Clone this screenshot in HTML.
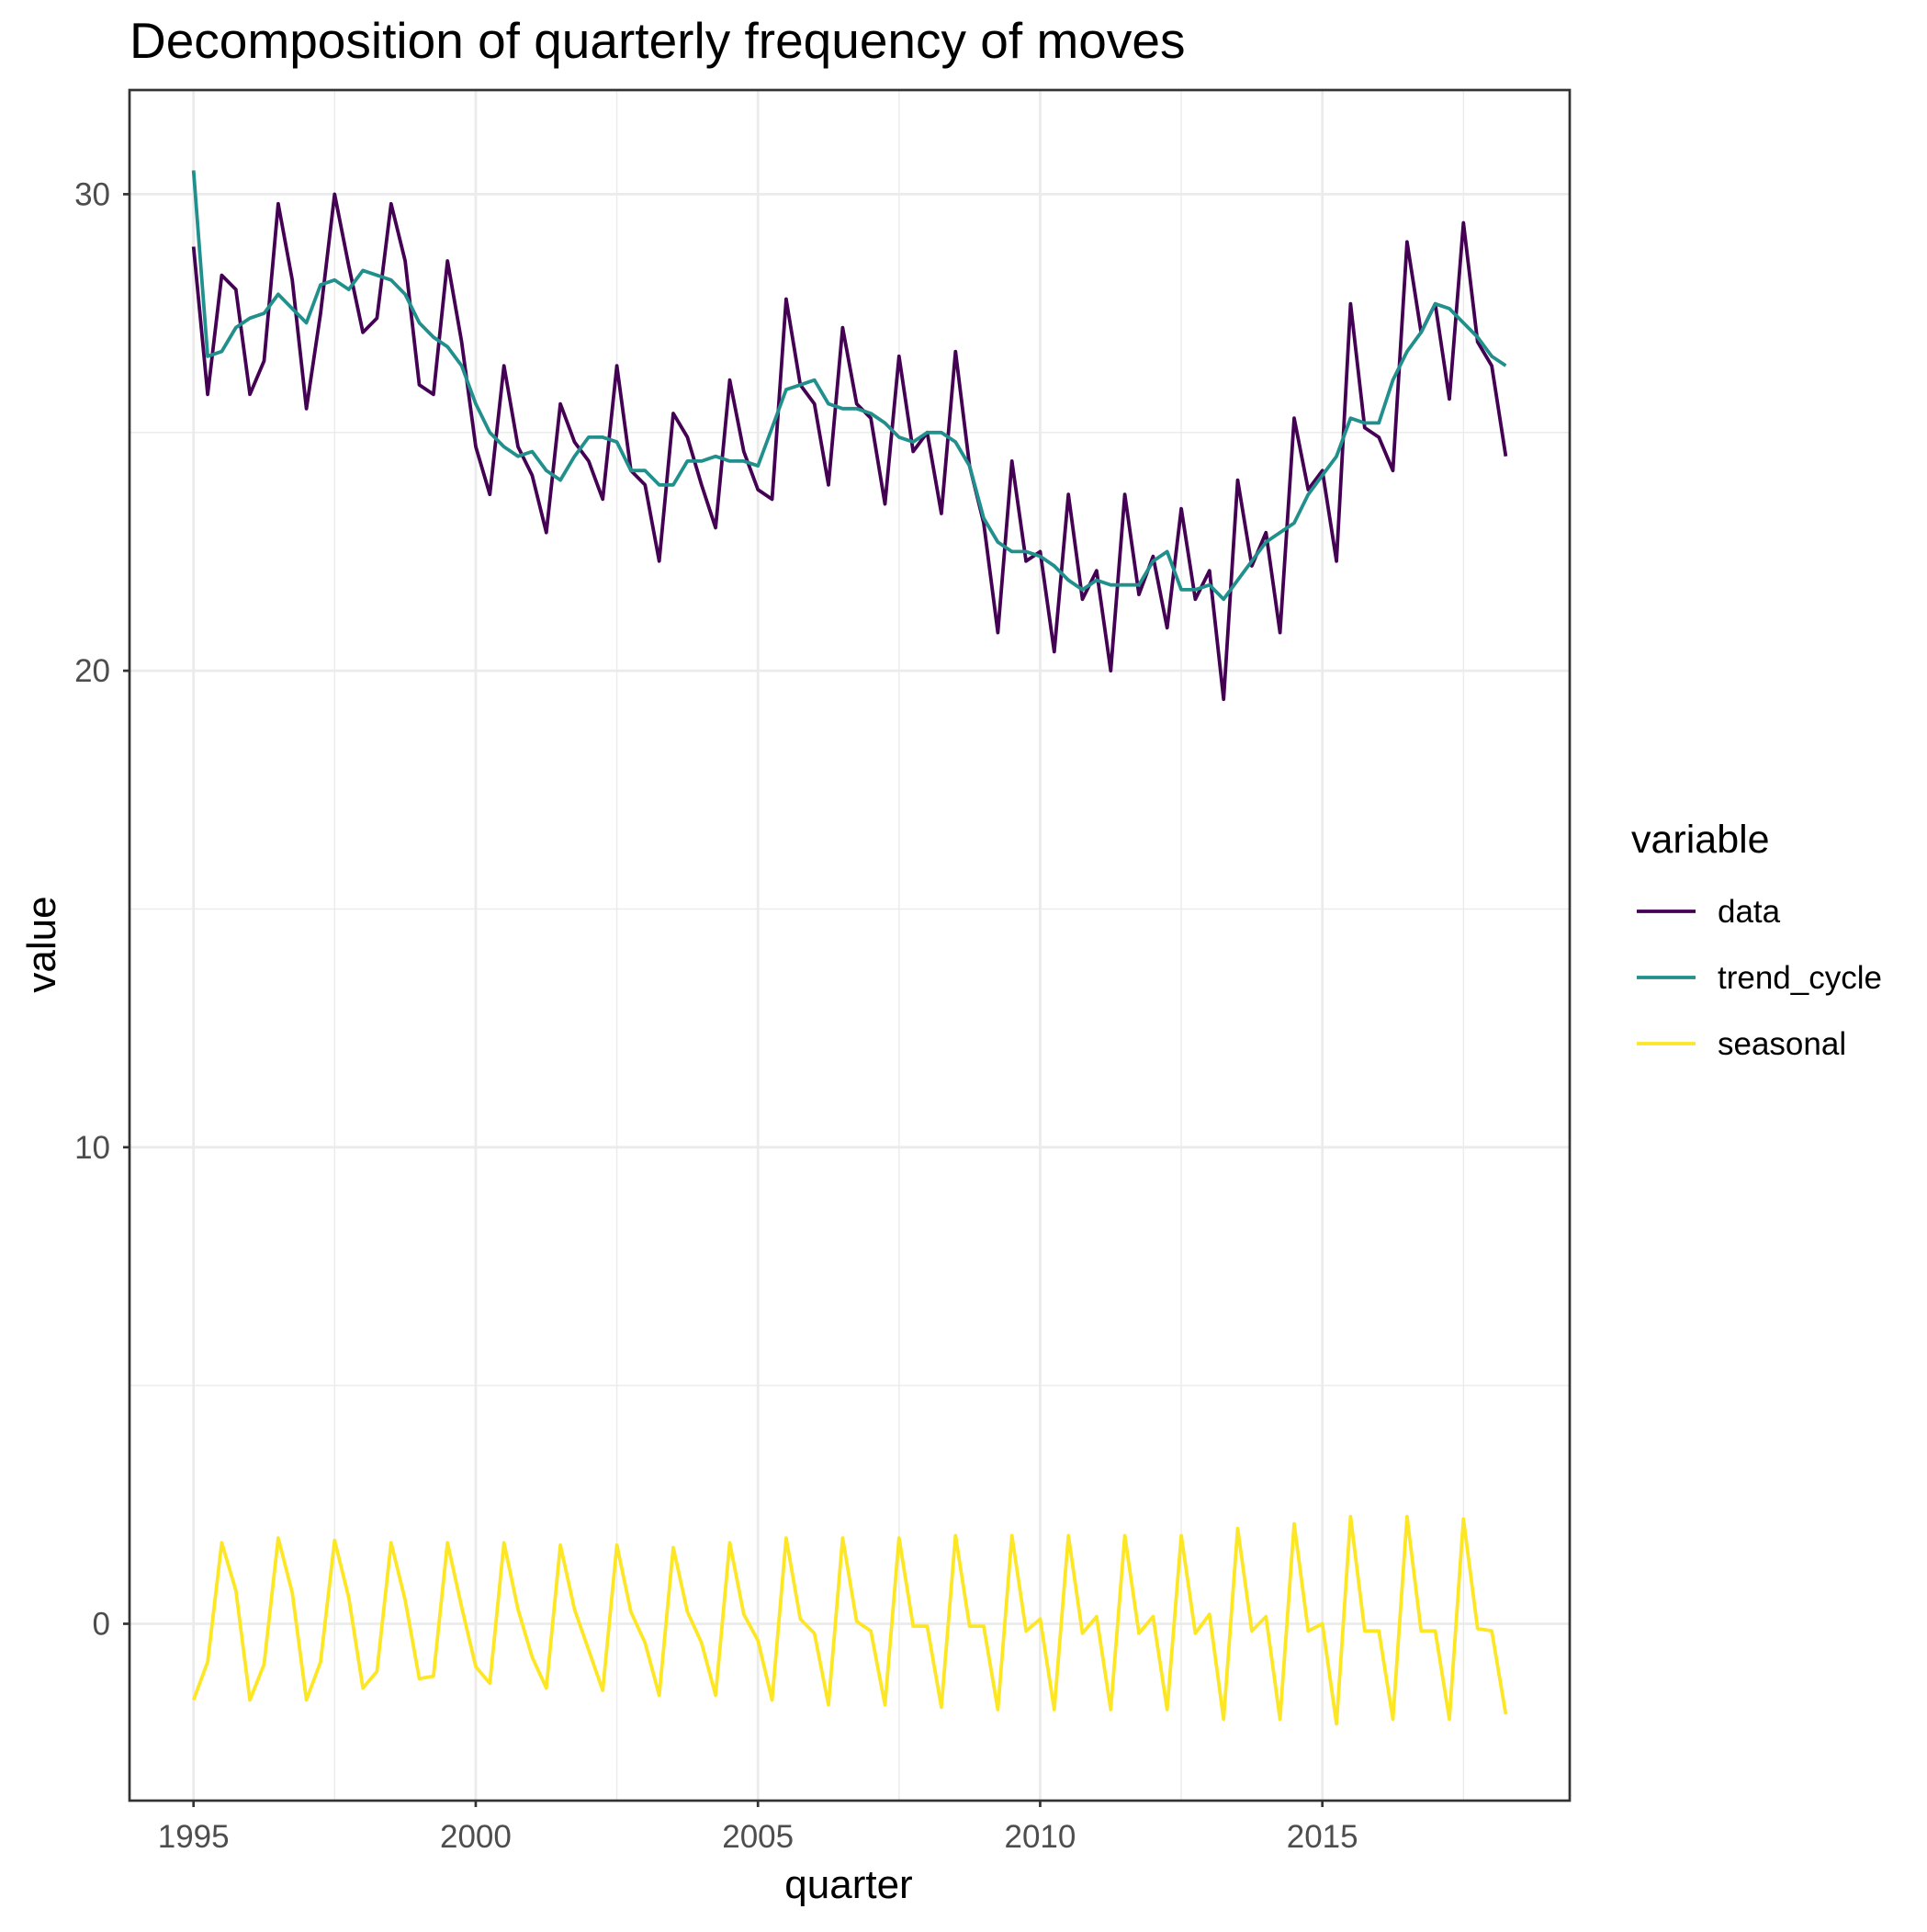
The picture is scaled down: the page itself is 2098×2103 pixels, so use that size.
<!DOCTYPE html>
<html><head><meta charset="utf-8"><style>
body{margin:0;background:#fff}
svg text{font-family:"Liberation Sans",Arial,sans-serif}
</style></head><body>
<svg width="2098" height="2098" viewBox="0 0 2098 2098" xmlns="http://www.w3.org/2000/svg">
<rect width="2098" height="2098" fill="#fff"/>
<text x="141" y="63" font-size="55" fill="#000">Decomposition of quarterly frequency of moves</text>
<g id="grid"></g>
<g id="series"></g>
<rect x="141" y="98" width="1568" height="1862" fill="none" stroke="#333" stroke-width="2.7"/>
<g id="axes"></g>
<text x="924" y="2066" font-size="44" text-anchor="middle" fill="#000">quarter</text>
<text transform="translate(60,1028) rotate(-90)" font-size="44" text-anchor="middle" fill="#000">value</text>
<g>
<text x="1776" y="928" font-size="43" fill="#000">variable</text>
<line x1="1782" x2="1846" y1="992" y2="992" stroke="#440154" stroke-width="3.8"/>
<text x="1870" y="1004" font-size="35" fill="#000">data</text>
<line x1="1782" x2="1846" y1="1064" y2="1064" stroke="#21908C" stroke-width="3.8"/>
<text x="1870" y="1076" font-size="35" fill="#000">trend_cycle</text>
<line x1="1782" x2="1846" y1="1136" y2="1136" stroke="#FDE725" stroke-width="3.8"/>
<text x="1870" y="1148" font-size="35" fill="#000">seasonal</text>
</g>
</svg>
<script>
const startYear = 1995;
const xTicks = [1995, 2000, 2005, 2010, 2015];
const xMinor = [1997.5, 2002.5, 2007.5, 2012.5, 2017.5];
const yTicks = [0, 10, 20, 30];
const yMinor = [5, 15, 25];
const dataSeries = [28.9,25.8,28.3,28.0,25.8,26.5,29.8,28.2,25.5,27.5,30.0,28.5,27.1,27.4,29.8,28.6,26.0,25.8,28.6,26.9,24.7,23.7,26.4,24.7,24.1,22.9,25.6,24.8,24.4,23.6,26.4,24.2,23.9,22.3,25.4,24.9,23.9,23.0,26.1,24.6,23.8,23.6,27.8,26.0,25.6,23.9,27.2,25.6,25.3,23.5,26.6,24.6,25.0,23.3,26.7,24.3,23.1,20.8,24.4,22.3,22.5,20.4,23.7,21.5,22.1,20.0,23.7,21.6,22.4,20.9,23.4,21.5,22.1,19.4,24.0,22.2,22.9,20.8,25.3,23.8,24.2,22.3,27.7,25.1,24.9,24.2,29.0,27.1,27.7,25.7,29.4,26.9,26.4,24.5];
const trendSeries = [30.5,26.6,26.7,27.2,27.4,27.5,27.9,27.6,27.3,28.1,28.2,28.0,28.4,28.3,28.2,27.9,27.3,27.0,26.8,26.4,25.6,25.0,24.7,24.5,24.6,24.2,24.0,24.5,24.9,24.9,24.8,24.2,24.2,23.9,23.9,24.4,24.4,24.5,24.4,24.4,24.3,25.1,25.9,26.0,26.1,25.6,25.5,25.5,25.4,25.2,24.9,24.8,25.0,25.0,24.8,24.3,23.2,22.7,22.5,22.5,22.4,22.2,21.9,21.7,21.9,21.8,21.8,21.8,22.3,22.5,21.7,21.7,21.8,21.5,21.9,22.3,22.7,22.9,23.1,23.7,24.1,24.5,25.3,25.2,25.2,26.1,26.7,27.1,27.7,27.6,27.3,27.0,26.6,26.4];
const seasonalSeries = [-1.6,-0.8,1.7,0.7,-1.6,-0.85,1.8,0.65,-1.6,-0.8,1.75,0.55,-1.35,-1.0,1.7,0.5,-1.15,-1.1,1.7,0.35,-0.9,-1.25,1.7,0.3,-0.7,-1.35,1.65,0.3,-0.55,-1.4,1.65,0.25,-0.4,-1.5,1.6,0.25,-0.4,-1.5,1.7,0.2,-0.35,-1.6,1.8,0.1,-0.2,-1.7,1.8,0.05,-0.15,-1.7,1.8,-0.05,-0.05,-1.75,1.85,-0.05,-0.05,-1.8,1.85,-0.15,0.1,-1.8,1.85,-0.2,0.15,-1.8,1.85,-0.2,0.15,-1.8,1.85,-0.2,0.2,-2.0,2.0,-0.15,0.15,-2.0,2.1,-0.15,0.0,-2.1,2.25,-0.15,-0.15,-2.0,2.25,-0.15,-0.15,-2.0,2.2,-0.1,-0.15,-1.9];

const NS = 'http://www.w3.org/2000/svg';
function X(yr){ return 210.7 + (yr - 1995) * 61.45; }
function Y(v){ return 1767.5 - v * 51.87; }
function mk(tag, attrs, parent){ const e = document.createElementNS(NS, tag); for (const k in attrs) e.setAttribute(k, attrs[k]); parent.appendChild(e); return e; }
const grid = document.getElementById('grid');
const axes = document.getElementById('axes');
const series = document.getElementById('series');
yMinor.forEach(v => {
  const l = mk('line', {x1:141, x2:1709, y1:Y(v), y2:Y(v), stroke:'#ebebeb', 'stroke-width':1.4}, grid);
  
  
});
xMinor.forEach(v => {
  const l = mk('line', {x1:X(v), x2:X(v), y1:98, y2:1960, stroke:'#ebebeb', 'stroke-width':1.4}, grid);
  
  
});
yTicks.forEach(v => {
  const l = mk('line', {x1:141, x2:1709, y1:Y(v), y2:Y(v), stroke:'#ebebeb', 'stroke-width':2.8}, grid);
  
  
  const t = mk('line', {x1:134, x2:141, y1:Y(v), y2:Y(v), stroke:'#333', 'stroke-width':2.7}, axes);
  
  
  const tx = mk('text', {x:120, y:Y(v)+12, 'font-size':35, 'text-anchor':'end', fill:'#4d4d4d'}, axes);
  tx.textContent = v;
  
  
});
xTicks.forEach(v => {
  const l = mk('line', {x1:X(v), x2:X(v), y1:98, y2:1960, stroke:'#ebebeb', 'stroke-width':2.8}, grid);
  
  
  const t = mk('line', {x1:X(v), x2:X(v), y1:1960, y2:1967, stroke:'#333', 'stroke-width':2.7}, axes);
  
  
  const tx = mk('text', {x:X(v), y:2011, 'font-size':35, 'text-anchor':'middle', fill:'#4d4d4d'}, axes);
  tx.textContent = v;
  
  
});
function drawLine(arr, color, name){
  const pts = arr.map((v, i) => X(startYear + i * 0.25).toFixed(1) + ',' + Y(v).toFixed(1)).join(' ');
  const p = mk('polyline', {points:pts, fill:'none', stroke:color, 'stroke-width':3.8, 'stroke-linejoin':'round'}, series);
  
  
}
drawLine(seasonalSeries, '#FDE725', 'seasonal-line');
drawLine(dataSeries, '#440154', 'data-line');
drawLine(trendSeries, '#21908C', 'trend-cycle-line');
</script>
</body></html>
